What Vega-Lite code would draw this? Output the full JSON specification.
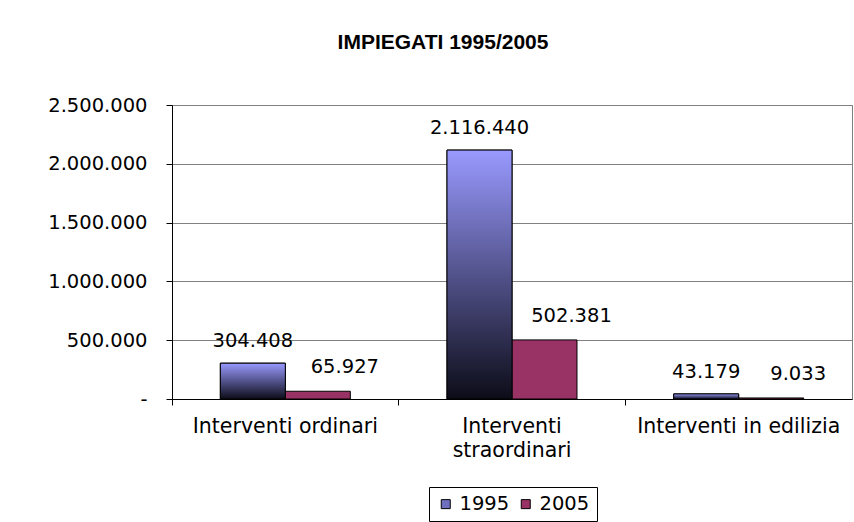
{
  "$schema": "https://vega.github.io/schema/vega-lite/v6.json",
  "width": 680,
  "height": 294,
  "autosize": {"type": "none"},
  "padding": {"left": 172, "top": 105, "right": 2, "bottom": 123},
  "background": "white",
  "title": {
    "text": "IMPIEGATI 1995/2005",
    "font": "Liberation Sans",
    "fontSize": 21,
    "fontWeight": "bold",
    "color": "black",
    "anchor": "middle",
    "dx": -69,
    "offset": 42
  },
  "data": {
    "values": [
      {"cat": "Interventi ordinari", "year": "1995", "value": 304408},
      {"cat": "Interventi ordinari", "year": "2005", "value": 65927},
      {"cat": "Interventi straordinari", "year": "1995", "value": 2116440},
      {"cat": "Interventi straordinari", "year": "2005", "value": 502381},
      {"cat": "Interventi in edilizia", "year": "1995", "value": 43179},
      {"cat": "Interventi in edilizia", "year": "2005", "value": 9033}
    ]
  },
  "encoding": {
    "x": {
      "field": "cat",
      "type": "nominal",
      "sort": null,
      "scale": {"paddingInner": 0, "paddingOuter": 0},
      "axis": {
        "title": null,
        "bandPosition": 0,
        "labelAngle": 0,
        "labelOverlap": false,
        "labelBound": false,
        "labelLimit": 0,
        "labelExpr": "datum.label == 'Interventi straordinari' ? ['Interventi', 'straordinari'] : datum.label",
        "labelLineHeight": 24,
        "labelPadding": 11,
        "tickSize": 6,
        "tickColor": "black",
        "domainColor": "black",
        "labelFont": "DejaVu Sans",
        "labelFontSize": 20.5,
        "labelColor": "black",
        "grid": false
      }
    },
    "xOffset": {
      "field": "year",
      "type": "nominal",
      "scale": {"domain": ["1995", "2005"], "paddingInner": 0, "paddingOuter": 0.744}
    },
    "y": {
      "field": "value",
      "type": "quantitative",
      "scale": {"domain": [0, 2500000], "nice": false},
      "axis": {
        "title": null,
        "values": [0, 500000, 1000000, 1500000, 2000000, 2500000],
        "labelExpr": "datum.value == 0 ? '-' : format(datum.value, ',')",
        "tickSize": 6,
        "tickColor": "black",
        "domainColor": "black",
        "labelPadding": 19,
        "labelFont": "DejaVu Sans",
        "labelFontSize": 19.5,
        "labelColor": "black",
        "grid": true,
        "gridColor": "#808080"
      }
    }
  },
  "layer": [
    {
      "mark": {"type": "bar", "stroke": "black", "strokeWidth": 1, "opacity": 1},
      "encoding": {
        "fill": {
          "field": "year",
          "type": "nominal",
          "scale": {"domain": ["1995", "2005"], "range": ["#6f6fbf", "#993366"]},
          "legend": {
            "title": null,
            "orient": "none",
            "legendX": 257,
            "legendY": 382,
            "direction": "horizontal",
            "strokeColor": "black",
            "padding": 7,
            "symbolType": "square",
            "symbolSize": 81,
            "symbolStrokeColor": "black",
            "symbolStrokeWidth": 1,
            "symbolOpacity": 1,
            "labelFont": "DejaVu Sans",
            "labelFontSize": 19.5,
            "labelColor": "black",
            "labelOffset": 4,
            "columnPadding": 6
          }
        }
      }
    },
    {
      "transform": [{"filter": "datum.year == '1995'"}],
      "mark": {
        "type": "bar",
        "stroke": "black",
        "strokeWidth": 1,
        "opacity": 1,
        "fill": {"gradient": "linear", "x1": 0, "y1": 0, "x2": 0, "y2": 1,
                 "stops": [{"offset": 0, "color": "#9999ff"}, {"offset": 1, "color": "#0c0c18"}]}
      },
      "encoding": {}
    },
    {
      "transform": [{"filter": "datum.year == '1995'"}],
      "mark": {"type": "text", "baseline": "bottom", "dy": -12, "font": "DejaVu Sans", "fontSize": 19.5, "color": "black"},
      "encoding": {"text": {"field": "value", "type": "quantitative", "format": ","}}
    },
    {
      "transform": [{"filter": "datum.year == '2005'"}],
      "mark": {"type": "text", "baseline": "bottom", "dx": 27, "dy": -14, "font": "DejaVu Sans", "fontSize": 19.5, "color": "black"},
      "encoding": {"text": {"field": "value", "type": "quantitative", "format": ","}}
    }
  ],
  "config": {
    "locale": {"number": {"decimal": ",", "thousands": ".", "grouping": [3], "currency": ["€", ""]}},
    "view": {"stroke": "#808080"}
  }
}
